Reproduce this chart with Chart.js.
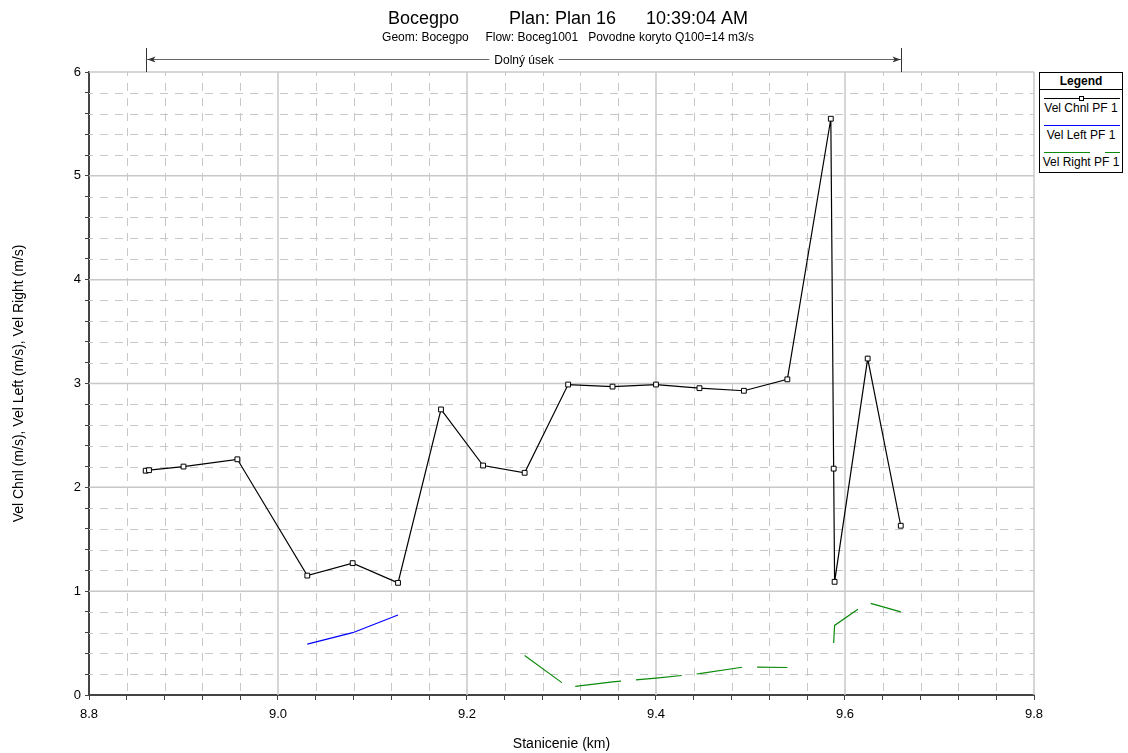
<!DOCTYPE html>
<html>
<head>
<meta charset="utf-8">
<script src="https://cdn.jsdelivr.net/npm/chart.js@4.4.0/dist/chart.umd.min.js"></script>
<style>
  html, body { margin: 0; padding: 0; background: #fff; }
  #wrap { position: relative; width: 1128px; height: 753px; }
  #legend {
    position: absolute; left: 1039px; top: 72px; width: 82px; height: 99px;
    border: 1px solid #000; background: #fff;
    font-family: "Liberation Sans", Arial, sans-serif; font-size: 12px; color: #000;
  }
  #legend .head { height: 16px; line-height: 16px; text-align: center; font-weight: bold; border-bottom: 1px solid #000; }
  #legend .item { height: 24px; }
  #legend .smp { position: relative; height: 10px; margin: 3px 2px 0 4px; }
  #legend .smp .ln { position: absolute; left: 0; right: 0; top: 5px; height: 1px; }
  #legend .smp .mk { position: absolute; left: 35px; top: 3px; width: 3px; height: 3px; border: 1px solid #000; background: #fff; }
  #legend .txt { height: 11px; line-height: 11px; text-align: center; white-space: nowrap; }
</style>
</head>
<body>
<div id="wrap">
  <canvas id="chart" width="1128" height="753"></canvas>
  <div id="legend"><div class="head">Legend</div></div>
</div>
<script>
// river stations (km) and velocities (m/s)
const stations = [8.860, 8.8635, 8.900, 8.957, 9.031, 9.079, 9.127, 9.1725, 9.217, 9.261, 9.307,
  9.354, 9.400, 9.446, 9.493, 9.539, 9.585, 9.588, 9.589, 9.624, 9.659];
const velChnl = [2.16, 2.165, 2.20, 2.27, 1.15, 1.27, 1.08, 2.75, 2.21, 2.14, 2.99,
  2.97, 2.99, 2.955, 2.93, 3.04, 5.55, 2.18, 1.09, 3.24, 1.63];
const velLeft = [null, null, null, null, 0.49, 0.60, 0.77, null, null, null, null,
  null, null, null, null, null, null, null, null, null, null];
const velRight = [null, null, null, null, null, null, null, null, null, 0.38, 0.075,
  0.126, 0.163, 0.205, 0.27, 0.265, null, 0.50, 0.67, 0.89, 0.80];
const seriesNames = ['Vel Chnl PF 1', 'Vel Left PF 1', 'Vel Right PF 1'];

const titleText = 'Bocegpo          Plan: Plan 16      10:39:04 AM';
const subtitleText = 'Geom: Bocegpo     Flow: Boceg1001   Povodne koryto Q100=14 m3/s';
const reachName = 'Dolný úsek';

const FONT = '"Liberation Sans", Arial, sans-serif';
const xMin = 8.8, xMax = 9.8, xMinor = 0.04, xMajorEvery = 5;
const yMin = 0, yMax = 6, yMinor = 0.2, yMajorEvery = 5;

const pts = vals => stations.map((s, i) => ({ x: s, y: vals[i] }));

// dashed minor grid + solid major grid
const gridPlugin = {
  id: 'hecGrid',
  beforeDatasetsDraw(chart) {
    const { ctx, chartArea: a, scales } = chart;
    const nx = Math.round((xMax - xMin) / xMinor);
    const ny = Math.round((yMax - yMin) / yMinor);
    ctx.save();
    ctx.lineWidth = 1;
    ctx.strokeStyle = '#c8c8c8';
    ctx.setLineDash([8, 7]);
    for (let i = 1; i < nx; i++) {
      if (i % xMajorEvery === 0) continue;
      const px = Math.round(scales.x.getPixelForValue(xMin + i * xMinor)) + 0.5;
      ctx.lineDashOffset = -4;
      ctx.beginPath(); ctx.moveTo(px, a.bottom); ctx.lineTo(px, a.top); ctx.stroke();
    }
    for (let j = 1; j < ny; j++) {
      if (j % yMajorEvery === 0) continue;
      const py = Math.round(scales.y.getPixelForValue(yMin + j * yMinor)) + 0.5;
      ctx.lineDashOffset = 4;
      ctx.beginPath(); ctx.moveTo(a.left, py); ctx.lineTo(a.right, py); ctx.stroke();
    }
    ctx.setLineDash([]);
    ctx.strokeStyle = '#c8c8c8';
    ctx.lineWidth = 1.5;
    for (let i = xMajorEvery; i <= nx; i += xMajorEvery) {
      const px = scales.x.getPixelForValue(xMin + i * xMinor);
      ctx.beginPath(); ctx.moveTo(px, a.bottom); ctx.lineTo(px, a.top); ctx.stroke();
    }
    for (let j = yMajorEvery; j <= ny; j += yMajorEvery) {
      const py = scales.y.getPixelForValue(yMin + j * yMinor);
      ctx.beginPath(); ctx.moveTo(a.left, py); ctx.lineTo(a.right, py); ctx.stroke();
    }
    ctx.restore();
  }
};

// titles and the reach bracket above the plot
const headerPlugin = {
  id: 'hecHeader',
  afterDraw(chart) {
    const { ctx, chartArea: a, scales } = chart;
    ctx.save();
    ctx.fillStyle = '#000';
    ctx.textAlign = 'center';
    ctx.textBaseline = 'alphabetic';
    ctx.font = '18px ' + FONT;
    ctx.fillText(titleText, 568, 24);
    ctx.font = '12px ' + FONT;
    ctx.fillText(subtitleText, 568, 41);

    const x1 = Math.round(scales.x.getPixelForValue(stations[0])) + 0.5;
    const x2 = Math.round(scales.x.getPixelForValue(stations[stations.length - 1])) + 0.5;
    const y = a.top - 12.5;
    ctx.strokeStyle = '#333';
    ctx.fillStyle = '#333';
    ctx.lineWidth = 1;
    ctx.beginPath();
    ctx.moveTo(x1, a.top - 24); ctx.lineTo(x1, a.top);
    ctx.moveTo(x2, a.top - 24); ctx.lineTo(x2, a.top);
    ctx.stroke();
    ctx.font = '12px ' + FONT;
    const mid = (x1 + x2) / 2;
    const tw = ctx.measureText(reachName).width;
    ctx.strokeStyle = '#666';
    ctx.beginPath();
    ctx.moveTo(x1, y); ctx.lineTo(mid - tw / 2 - 5, y);
    ctx.moveTo(mid + tw / 2 + 5, y); ctx.lineTo(x2, y);
    ctx.stroke();
    ctx.beginPath();
    ctx.moveTo(x1 + 1, y); ctx.lineTo(x1 + 9, y - 3); ctx.lineTo(x1 + 7, y); ctx.lineTo(x1 + 9, y + 3); ctx.closePath();
    ctx.moveTo(x2 - 1, y); ctx.lineTo(x2 - 9, y - 3); ctx.lineTo(x2 - 7, y); ctx.lineTo(x2 - 9, y + 3); ctx.closePath();
    ctx.fill();
    ctx.fillStyle = '#000';
    ctx.textBaseline = 'middle';
    ctx.fillText(reachName, mid, y + 1);
    ctx.restore();
  }
};

const chart = new Chart(document.getElementById('chart'), {
  type: 'line',
  data: {
    datasets: [
      { label: seriesNames[0], data: pts(velChnl), borderColor: '#000', borderWidth: 1.2,
        pointStyle: 'rect', pointRadius: 3.4, pointBorderWidth: 1, pointBorderColor: '#000', pointBackgroundColor: '#fff' },
      { label: seriesNames[1], data: pts(velLeft), borderColor: '#0000ff', borderWidth: 1.2, pointRadius: 0 },
      { label: seriesNames[2], data: pts(velRight), borderColor: '#0a8a0a', borderWidth: 1.2, pointRadius: 0,
        borderDash: [46, 15] }
    ]
  },
  options: {
    responsive: false,
    animation: false,
    devicePixelRatio: 1,
    spanGaps: false,
    elements: { line: { tension: 0 } },
    layout: { padding: { top: 72, right: 94, bottom: 0, left: 0 } },
    plugins: { legend: { display: false }, tooltip: { enabled: false }, title: { display: false } },
    scales: {
      x: {
        type: 'linear', min: xMin, max: xMax,
        afterFit: s => { s.height = 58; },
        ticks: {
          stepSize: xMinor, autoSkip: false, maxRotation: 0, padding: 7,
          color: '#000', font: { family: FONT, size: 13 },
          callback: v => Math.abs(v / 0.2 - Math.round(v / 0.2)) < 1e-6 ? v.toFixed(1) : ''
        },
        grid: { drawOnChartArea: false, drawTicks: true, tickLength: 5, tickColor: '#444', tickWidth: 1 },
        border: { display: true, color: '#444', width: 2 },
        title: { display: true, text: 'Stanicenie (km)', color: '#000', font: { family: FONT, size: 14 },
          padding: { top: 0, bottom: 0 } }
      },
      y: {
        type: 'linear', min: yMin, max: yMax,
        afterFit: s => { s.width = 89; },
        ticks: {
          stepSize: yMinor, autoSkip: false, padding: 4,
          color: '#000', font: { family: FONT, size: 13 },
          callback: v => Math.abs(v - Math.round(v)) < 1e-6 ? String(Math.round(v)) : ''
        },
        grid: { drawOnChartArea: false, drawTicks: true, tickLength: 4, tickColor: '#444', tickWidth: 1 },
        border: { display: true, color: '#444', width: 2 },
        title: { display: true, text: 'Vel Chnl (m/s), Vel Left (m/s), Vel Right (m/s)', color: '#000',
          font: { family: FONT, size: 14 }, padding: { top: 11, bottom: 0 } }
      }
    }
  },
  plugins: [gridPlugin, headerPlugin]
});

// legend box built from the datasets
const legend = document.getElementById('legend');
chart.data.datasets.forEach((ds, i) => {
  const item = document.createElement('div');
  item.className = 'item';
  const smp = document.createElement('div');
  smp.className = 'smp';
  const ln = document.createElement('div');
  ln.className = 'ln';
  if (ds.borderDash) {
    ln.style.background = `linear-gradient(to right, ${ds.borderColor} 0 46px, transparent 46px 61px, ${ds.borderColor} 61px)`;
  } else {
    ln.style.background = ds.borderColor;
  }
  smp.appendChild(ln);
  if (ds.pointStyle === 'rect') {
    const mk = document.createElement('div');
    mk.className = 'mk';
    smp.appendChild(mk);
  }
  const txt = document.createElement('div');
  txt.className = 'txt';
  txt.textContent = ds.label;
  item.appendChild(smp);
  item.appendChild(txt);
  legend.appendChild(item);
});
</script>
</body>
</html>
